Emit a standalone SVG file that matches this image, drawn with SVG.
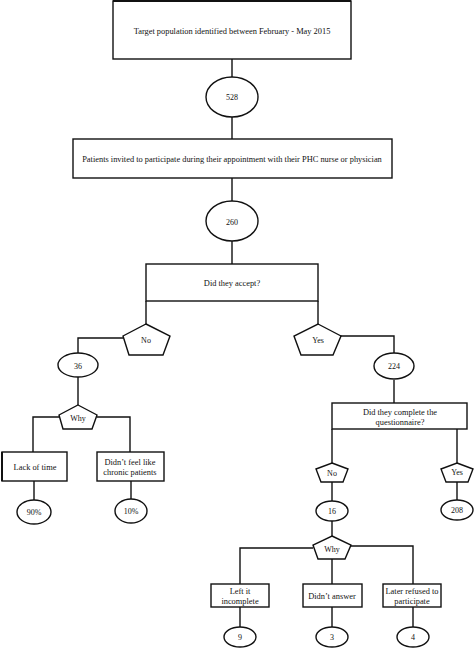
<svg xmlns="http://www.w3.org/2000/svg" width="474" height="650" viewBox="0 0 474 650">
<style>
.s{fill:#fff;stroke:#111;stroke-width:1.4}
.c{fill:none;stroke:#111;stroke-width:1.4}
text{font-family:"Liberation Serif","Times New Roman",serif;font-size:8px;fill:#111;text-anchor:middle;dominant-baseline:central}
.m{font-size:8.4px}
.w{font-size:8.4px}
</style>
<rect width="474" height="650" fill="#fff"/>
<g id="connectors">
<path class="c" d="M232 59V77M232 117V139M232 178V202M232 241V264"/>
<path class="c" d="M146 301V324M318 301V324"/>
<path class="c" d="M123 338H78V353M78 377V405"/>
<path class="c" d="M59 417H33V452M97 417H130V452M34 481V500M131 481V499"/>
<path class="c" d="M340 336H394V353M394 380V403"/>
<path class="c" d="M332 429V463M457 429V463"/>
<path class="c" d="M332 482V501M457 482V500M332 521V536"/>
<path class="c" d="M313 548H240V584M351 546H413V584M332 559V584"/>
<path class="c" d="M240 607V627M332 607V627M413 607V627"/>
</g>
<g id="n-target"><rect class="s" x="113" y="1" width="238" height="58"/><rect x="113" y="0" width="238" height="2" fill="#111"/><text class="w" x="232" y="31">Target population identified between February - May 2015</text></g>
<g id="n-528"><ellipse class="s" cx="232" cy="97" rx="26" ry="20"/><text x="232" y="97">528</text></g>
<g id="n-invited"><rect class="s" x="73" y="139" width="319" height="39"/><text class="w" x="232" y="159">Patients invited to participate during their appointment with their PHC nurse or physician</text></g>
<g id="n-260"><ellipse class="s" cx="232" cy="221" rx="26" ry="20"/><text x="232" y="222">260</text></g>
<g id="n-accept"><rect class="s" x="146" y="264" width="172" height="37"/><text class="w" x="232" y="283">Did they accept?</text></g>
<g id="n-no1"><polygon class="s" points="146,324 170,336 163,355 129,355 123,336"/><text x="146" y="340">No</text></g>
<g id="n-yes1"><polygon class="s" points="318,324 341,336 333,355 301,355 294,336"/><text x="318" y="340">Yes</text></g>
<g id="n-36"><ellipse class="s" cx="78" cy="365" rx="20" ry="12"/><text x="78" y="366">36</text></g>
<g id="n-why1"><polygon class="s" points="78,405 97,415 92,429 63,429 59,415"/><text x="78" y="418">Why</text></g>
<g id="n-lack"><rect class="s" x="2" y="452" width="65" height="29"/><rect x="1" y="452" width="2" height="29" fill="#111"/><text class="m" x="35" y="467">Lack of time</text></g>
<g id="n-feel"><rect class="s" x="97" y="452" width="67" height="29"/><text class="m" x="130" y="462">Didn’t feel like</text><text class="m" x="130" y="472">chronic patients</text></g>
<g id="n-90"><ellipse class="s" cx="34" cy="512" rx="17" ry="12"/><text x="34" y="512">90%</text></g>
<g id="n-10"><ellipse class="s" cx="131" cy="511" rx="16" ry="12"/><text x="131" y="511">10%</text></g>
<g id="n-224"><ellipse class="s" cx="394" cy="366" rx="20" ry="13"/><text x="394" y="366">224</text></g>
<g id="n-complete"><rect class="s" x="332" y="403" width="135" height="26"/><text class="m" x="400" y="412">Did they complete the</text><text class="m" x="400" y="422">questionnaire?</text></g>
<g id="n-no2"><polygon class="s" points="332,463 348,469 343,482 321,482 316,469"/><text x="332" y="473">No</text></g>
<g id="n-yes2"><polygon class="s" points="457,463 473,469 468,482 446,482 441,469"/><text x="457" y="472">Yes</text></g>
<g id="n-208"><ellipse class="s" cx="457" cy="510" rx="16" ry="10"/><text x="457" y="510">208</text></g>
<g id="n-16"><ellipse class="s" cx="332" cy="511" rx="16" ry="10"/><text x="332" y="511">16</text></g>
<g id="n-why2"><polygon class="s" points="332,536 351,545 345,559 318,559 313,545"/><text x="332" y="549">Why</text></g>
<g id="n-left"><rect class="s" x="211" y="584" width="58" height="23"/><text class="m" x="240" y="591">Left it</text><text class="m" x="240" y="601">incomplete</text></g>
<g id="n-didnt"><rect class="s" x="303" y="584" width="59" height="23"/><text class="m" x="332" y="596">Didn’t answer</text></g>
<g id="n-later"><rect class="s" x="383" y="584" width="58" height="23"/><text class="m" x="412" y="591">Later refused to</text><text class="m" x="412" y="601">participate</text></g>
<g id="n-9"><ellipse class="s" cx="240" cy="637" rx="16" ry="10"/><text x="240" y="637">9</text></g>
<g id="n-3"><ellipse class="s" cx="332" cy="637" rx="16" ry="10"/><text x="332" y="637">3</text></g>
<g id="n-4"><ellipse class="s" cx="413" cy="637" rx="16" ry="10"/><text x="413" y="637">4</text></g>
</svg>
